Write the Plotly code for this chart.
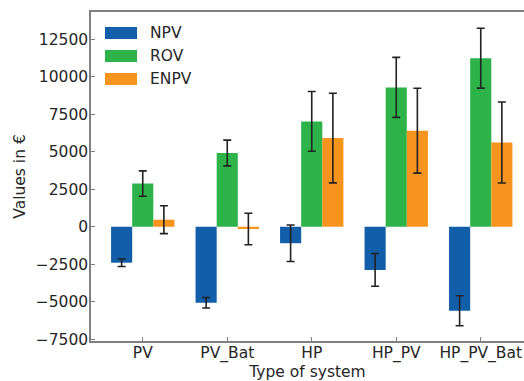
import plotly.graph_objects as go

categories = ["PV", "PV_Bat", "HP", "HP_PV", "HP_PV_Bat"]
npv = [-2400, -5070, -1100, -2880, -5610]
npv_err = [250, 350, 1220, 1090, 1000]
rov = [2880, 4920, 7030, 9300, 11250]
rov_err = [850, 860, 1990, 2000, 2000]
enpv = [470, -150, 5920, 6410, 5620]
enpv_err = [930, 1050, 2990, 2835, 2700]
series_names = ["NPV", "ROV", "ENPV"]
colors = ["#125ea9", "#2db34a", "#f7941d"]
y_ticks = [-7500, -5000, -2500, 0, 2500, 5000, 7500, 10000, 12500]
y_tick_text = ["\u22127500", "\u22125000", "\u22122500", "0", "2500", "5000",
               "7500", "10000", "12500"]

font = "DejaVu Sans"
fs = 15.5
fig = go.Figure()
for name, vals, errs, col in zip(series_names, [npv, rov, enpv],
                                 [npv_err, rov_err, enpv_err], colors):
    fig.add_trace(go.Bar(
        x=categories, y=vals, name=name, marker_color=col,
        marker_line_width=0, showlegend=False,
        error_y=dict(type="data", array=errs, visible=True,
                     color="#222222", thickness=1.6, width=4),
    ))

# manual legend (matplotlib style)
W, H = 524, 381
ml, mr, mt, mb = 91, 0, 12, 40
pw, ph = W - ml - mr, H - mt - mb
def px_x(x):
    return (x - ml) / pw
def px_y(y):
    return 1 - (y - mt) / ph
shapes = []
annotations = []
for i, (name, col) in enumerate(zip(series_names, colors)):
    yc = 33 + i * 23
    shapes.append(dict(type="rect", xref="paper", yref="paper",
                       x0=px_x(105), x1=px_x(137), y0=px_y(yc - 6), y1=px_y(yc + 6),
                       fillcolor=col, line_width=0))
    annotations.append(dict(xref="paper", yref="paper", x=px_x(148), y=px_y(yc),
                            text=name, showarrow=False, xanchor="left", yanchor="middle",
                            font=dict(family=font, size=fs, color="#262626")))

fig.update_layout(
    width=W, height=H,
    margin=dict(l=ml, r=mr, t=mt, b=mb),
    paper_bgcolor="white", plot_bgcolor="white",
    barmode="group", bargap=0.25, bargroupgap=0,
    font=dict(family=font, size=fs, color="#262626"),
    shapes=shapes, annotations=annotations,
    xaxis=dict(
        type="category", range=[-0.6125, 4.512],
        showline=True, linecolor="#808080", linewidth=1.5, mirror=True,
        ticks="inside", ticklen=4, tickcolor="#808080", tickwidth=1,
        showgrid=False, zeroline=False,
        ticklabelstandoff=-3,
        title=dict(text="Type of system", standoff=0, font=dict(size=fs)),
        tickfont=dict(size=fs),
    ),
    yaxis=dict(
        range=[-7625, 14330],
        tickvals=y_ticks, ticktext=y_tick_text,
        showline=True, linecolor="#808080", linewidth=1.5,
        ticks="inside", ticklen=4, tickcolor="#808080", tickwidth=1,
        showgrid=False, zeroline=False,
        ticklabelstandoff=-2,
        title=dict(text="Values in €", standoff=6, font=dict(size=fs)),
        tickfont=dict(size=fs),
    ),
)

fig.write_html("out.html")
